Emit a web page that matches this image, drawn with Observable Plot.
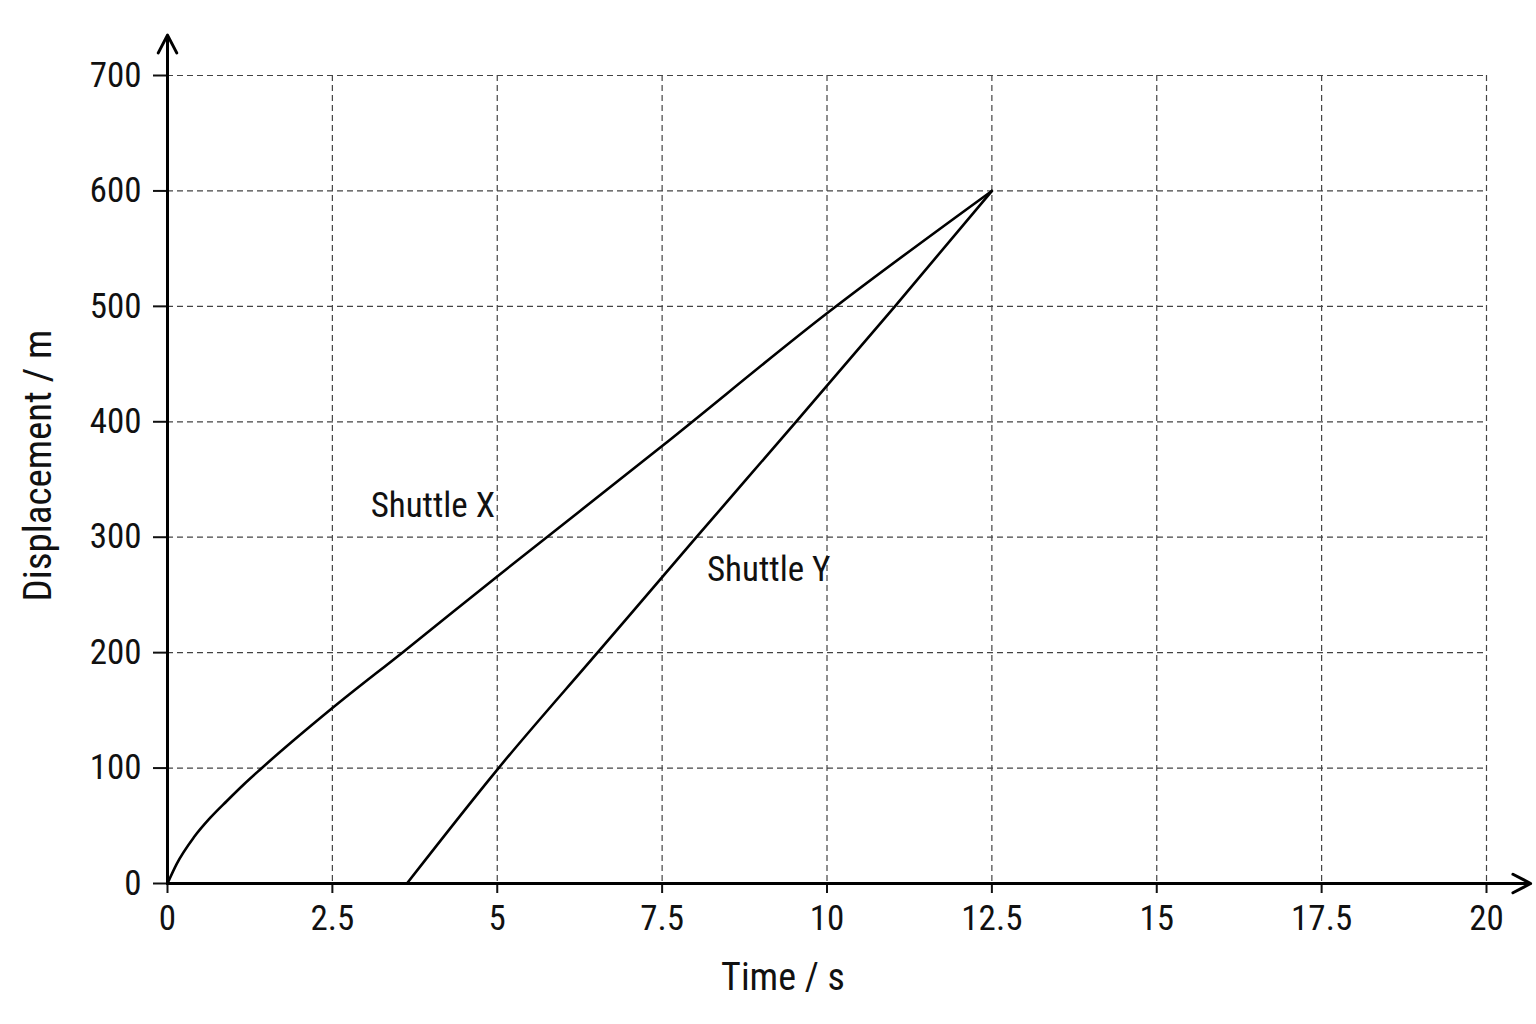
<!DOCTYPE html>
<html><head><meta charset="utf-8">
<script src="https://cdn.jsdelivr.net/npm/d3@7"></script>
<script src="https://cdn.jsdelivr.net/npm/@observablehq/plot@0.6"></script>
<style>body{margin:0;background:#fff}</style>
</head><body><div id="chart"></div>
<script>
const xTicks = [0, 2.5, 5, 7.5, 10, 12.5, 15, 17.5, 20];
const yTicks = [0, 100, 200, 300, 400, 500, 600, 700];

const shuttleXTime = [0, 0.14, 0.4, 0.65, 0.9, 1.16, 1.41, 2.5, 3.56, 5, 7.5, 10, 12.5];
const shuttleXDisp = [0, 17, 40, 57, 71.5, 86, 99, 152, 200, 266, 379, 494, 600];

const shuttleYTime = [3.63, 5.02, 6.52, 8.02, 9.53, 11.03, 12.5];
const shuttleYDisp = [0, 100, 200, 300, 400, 500, 600];

const seriesNames = ["Shuttle X", "Shuttle Y"];
const seriesLabelTime = [3.08, 8.18];
const seriesLabelDisp = [327, 272];

const axisEndTime = 20.67;
const axisEndDisp = 735;

const font = "'Liberation Sans Narrow', 'Arial Narrow', 'Roboto Condensed', 'Liberation Sans', sans-serif";

const xIdx = d3.range(shuttleXTime.length);
const yIdx = d3.range(shuttleYTime.length);
const gridStyle = {stroke: "#444", strokeOpacity: 1, strokeWidth: 1.2, strokeDasharray: "6,4"};

const chart = Plot.plot({
  width: 1536,
  height: 1024,
  marginLeft: 167,
  marginRight: 50,
  marginTop: 75,
  marginBottom: 141,
  x: {domain: [0, 20]},
  y: {domain: [0, 700]},
  style: {fontFamily: font, fontSize: "35px", color: "#111", background: "#fff"},
  marks: [
    Plot.gridX(xTicks, gridStyle),
    Plot.gridY(yTicks, gridStyle),
    Plot.axisX(xTicks, {tickSize: 10, tickPadding: 12, fontSize: 35, strokeWidth: 2, label: null, tickFormat: d => String(d)}),
    Plot.axisY(yTicks, {tickSize: 14, tickPadding: 12, fontSize: 35, strokeWidth: 2, label: null, tickFormat: d => String(d)}),
    Plot.arrow([0], {x1: 0, y1: 0, x2: axisEndTime, y2: 0, stroke: "#000", strokeWidth: 3, headLength: 10, headAngle: 55}),
    Plot.arrow([0], {x1: 0, y1: 0, x2: 0, y2: axisEndDisp, stroke: "#000", strokeWidth: 3, headLength: 10, headAngle: 55}),
    Plot.line(xIdx, {x: i => shuttleXTime[i], y: i => shuttleXDisp[i], curve: "monotone-x", stroke: "#000", strokeWidth: 2.6}),
    Plot.line(yIdx, {x: i => shuttleYTime[i], y: i => shuttleYDisp[i], curve: "monotone-x", stroke: "#000", strokeWidth: 2.6}),
    Plot.text(seriesNames, {x: (d, i) => seriesLabelTime[i], y: (d, i) => seriesLabelDisp[i], text: d => d, textAnchor: "start", fontSize: 35, fill: "#111"}),
    Plot.text(["Time / s"], {frameAnchor: "bottom", textAnchor: "middle", lineAnchor: "middle", dx: -44, dy: 94, text: d => d, fontSize: 38, fill: "#111"}),
    Plot.text(["Displacement / m"], {frameAnchor: "left", textAnchor: "middle", lineAnchor: "middle", dx: -129, dy: -14, rotate: -90, text: d => d, fontSize: 39, fill: "#111"})
  ]
});
document.getElementById("chart").appendChild(chart);
</script>
</body></html>
